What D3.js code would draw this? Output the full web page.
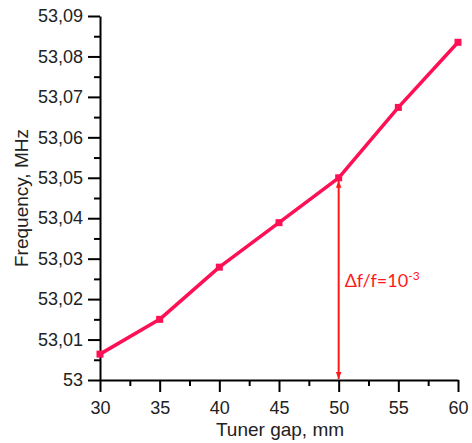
<!DOCTYPE html>
<html>
<head>
<meta charset="utf-8">
<style>
  body { margin: 0; background: #fff; }
  .axis path, .axis line { stroke: #000; stroke-width: 2; }
  .axis text { font-family: "Liberation Sans", Arial, sans-serif; font-size: 18px; fill: #222; }
  .title { font-family: "Liberation Sans", Arial, sans-serif; font-size: 19px; fill: #222; }
</style>
<title>Frequency vs tuner gap</title>
</head>
<body>
<script src="https://cdn.jsdelivr.net/npm/d3@7"></script>
<script>

// data
var gaps = [30, 35, 40, 45, 50, 55, 60];
var freqs = [53.0064, 53.0150, 53.0279, 53.0389, 53.0500, 53.0674, 53.0835];

var xTicks = [30, 35, 40, 45, 50, 55, 60];
var xMinor = [32.5, 37.5, 42.5, 47.5, 52.5, 57.5];
var yTicks = [53, 53.01, 53.02, 53.03, 53.04, 53.05, 53.06, 53.07, 53.08, 53.09];
var yMinor = [53.005, 53.015, 53.025, 53.035, 53.045, 53.055, 53.065, 53.075, 53.085];

// the double arrow marks delta f between 53 and the value at 50 mm
var arrowGap = 50;
var arrowFrom = 53;
var arrowTo = 53.05;

var W = 472, H = 443;
var x = d3.scaleLinear().domain([30, 60]).range([100, 458]);
var y = d3.scaleLinear().domain([53, 53.09]).range([380, 16]);

var fmt = d => d === 53 ? "53" : d3.format(".2f")(d).replace(".", ",");

var svg = d3.select("body").append("svg")
    .attr("width", W)
    .attr("height", H);

var defs = svg.append("defs");
defs.append("marker")
    .attr("id", "head")
    .attr("viewBox", "0 0 10 10")
    .attr("refX", 10).attr("refY", 5)
    .attr("markerWidth", 7).attr("markerHeight", 7)
    .attr("markerUnits", "userSpaceOnUse")
    .attr("orient", "auto-start-reverse")
  .append("path")
    .attr("d", "M0,1 L10,5 L0,9 Z")
    .attr("fill", "#ff1a1a");

// minor ticks
svg.append("g")
    .attr("class", "axis")
    .attr("transform", "translate(0,380)")
    .call(d3.axisBottom(x).tickValues(xMinor).tickSize(6).tickSizeOuter(0).tickFormat(""))
    .select(".domain").remove();
svg.append("g")
    .attr("class", "axis")
    .attr("transform", "translate(100,0)")
    .call(d3.axisLeft(y).tickValues(yMinor).tickSize(6).tickSizeOuter(0).tickFormat(""))
    .select(".domain").remove();

// major axes
var gx = svg.append("g")
    .attr("class", "axis")
    .attr("transform", "translate(0,380)")
    .call(d3.axisBottom(x).tickValues(xTicks).tickSize(12).tickSizeOuter(0).tickPadding(9));
var gy = svg.append("g")
    .attr("class", "axis")
    .attr("transform", "translate(100,0)")
    .call(d3.axisLeft(y).tickValues(yTicks).tickSize(12).tickSizeOuter(0).tickPadding(5).tickFormat(fmt));

// axis titles
svg.append("text")
    .attr("class", "title")
    .attr("x", 280)
    .attr("y", 436)
    .attr("text-anchor", "middle")
    .text("Tuner gap, mm");

svg.append("text")
    .attr("class", "title")
    .attr("transform", "translate(28,198) rotate(-90)")
    .attr("text-anchor", "middle")
    .text("Frequency, MHz");

// arrow
svg.append("line")
    .attr("x1", x(arrowGap)).attr("x2", x(arrowGap))
    .attr("y1", y(arrowTo) + 3).attr("y2", y(arrowFrom) - 1)
    .attr("stroke", "#ff1a1a")
    .attr("stroke-width", 2)
    .attr("marker-start", "url(#head)")
    .attr("marker-end", "url(#head)");

var lab = svg.append("text")
    .attr("x", x(arrowGap) + 6)
    .attr("y", 287)
    .attr("font-family", "Lato, 'Open Sans', sans-serif")
    .attr("font-size", 18)
    .attr("fill", "#ff1a1a");
lab.append("tspan").text("\u0394f/f=10");
lab.append("tspan").attr("dy", -7).attr("font-size", 12).text("-3");

// data line
var line = d3.line()
    .x((d, i) => x(gaps[i]))
    .y(d => y(d));

svg.append("path")
    .datum(freqs)
    .attr("d", line)
    .attr("fill", "none")
    .attr("stroke", "#ff1055")
    .attr("stroke-width", 3.5)
    .attr("stroke-linejoin", "round");

svg.append("g")
    .selectAll("rect")
    .data(freqs)
    .enter()
    .append("rect")
    .attr("x", (d, i) => x(gaps[i]) - 3.5)
    .attr("y", d => y(d) - 3.5)
    .attr("width", 7)
    .attr("height", 7)
    .attr("fill", "#ff1055");

</script>
</body>
</html>
